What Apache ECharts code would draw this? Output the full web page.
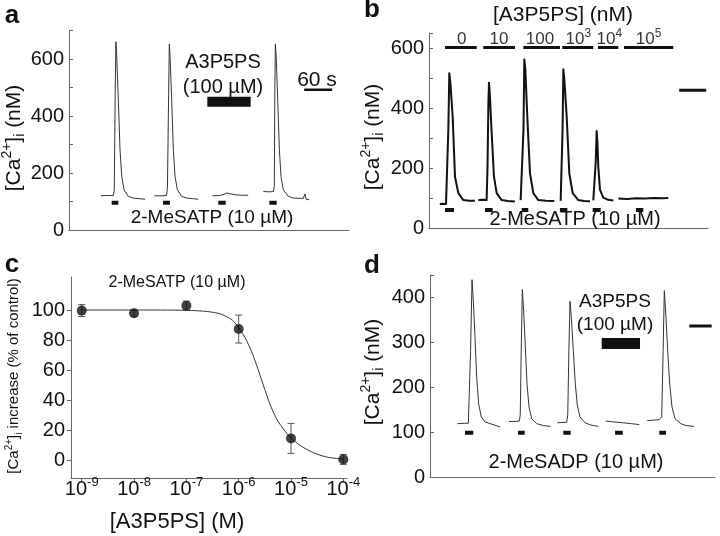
<!DOCTYPE html>
<html><head><meta charset="utf-8">
<script src="https://cdn.jsdelivr.net/npm/echarts@6/dist/echarts.min.js"></script>
<style>html,body{margin:0;padding:0;background:#fff}#c{width:720px;height:536px}</style>
</head><body><div id="c"></div>
<script>
// ---------- Panel a : [Ca2+]i traces (time s, nM) ----------
const aTrace1 = [[68,120],[80,121],[95,121],[97,140],[99,480],[100.5,661],[102,620],[105.7,459],[109.3,282],[113,188],[118,141],[127,118],[138,112],[150,110],[163,108]];
const aTrace2 = [[183,120],[200,120],[209,121],[211,150],[213.5,480],[215,653],[216.5,610],[220,459],[223.6,282],[227.2,188],[232.2,141],[241.5,118],[252.2,112],[265,110],[277,108]];
const aTrace3 = [[307,120],[323,121],[332,125],[338,130],[345,127],[359,123],[372,122],[384,122]];
const aTrace4 = [[416.5,135],[430,134],[438,135],[440,155],[441,480],[442.2,653],[444,610],[447.2,459],[450.8,282],[454.3,188],[459.3,141],[470,118],[480.7,112],[502,111],[505.7,127],[507.9,108],[515,106]];
const aDrug = [[91.4,105.7],[201.4,216.4],[320,335.8],[429.3,445]];
const aDrugLevel = 96;
const aBlock = [296.4,389.3]; const aBlockLevel = 450;
const aScale = [504,564]; const aScaleLevel = 492;

// ---------- Panel b ----------
const bTrace1 = [[24,80],[30,81],[37.8,80],[40.7,85],[43,330],[45.1,516],[47.5,485],[52.6,371],[57.8,171],[65.2,116],[76.3,93],[90,91],[102,91]];
const bTrace2 = [[109.6,93],[120,94],[128,93],[130,200],[132,420],[133.3,484],[135,450],[139.3,316],[144.4,171],[150.4,116],[161.5,93],[175,90],[191,88]];
const bTrace3 = [[203.7,93],[208,94],[210,330],[211.8,562],[214,530],[218.5,371],[224.4,182],[231.8,116],[242.9,93],[260,91],[278.5,90]];
const bTrace4 = [[292.6,91],[295.5,95],[297,340],[298.5,529],[300.5,500],[306,371],[311.8,182],[319.3,116],[331.8,93],[345,90],[357.7,89]];
const bTrace5 = [[365.1,92],[368.2,95],[370.5,220],[372.6,323],[374.5,280],[376.2,204],[380,127],[387.3,101],[398,94],[409.5,92]];
const bTrace6 = [[420.7,98],[440,97],[460,99],[480,98],[500,100],[520,99],[531.8,100]];
const bDrug = [[35.6,55.5],[124.4,141.5],[206,220.7],[291,307.4],[363.7,381.5],[460,476.2]];
const bDrugLevel = 60;
const bConc = [[35.6,106],[120.7,191.1],[209.6,291.1],[296.2,365.1],[375.5,420.7],[433.3,542.8]];
const bConcLevel = 602;
const bConcLabels = ['0','10','100','10{s|3}','10{s|4}','10{s|5}'];
const bConcLabelX = [72.6,155.5,246.6,331.8,400.7,488.1];
const bConcLabelLevel = 630;
const bScale = [556,616]; const bScaleLevel = 459;

// ---------- Panel c : concentration-response ----------
const cLogConc = [-9,-8,-7,-6,-5,-4];
const cMean = [99.6,97.8,102.9,87.3,14.4,0.4];
const cErr = [4,2,3,9.3,10,3.3];
const cFitX = [-9,-8,-7,-6.6,-6.36,-6.2,-6.1,-6.0,-5.91,-5.78,-5.66,-5.53,-5.40,-5.27,-5.11,-5.0,-4.83,-4.57,-4.32,-4.0];
const cFitY = [100,100,99.8,99,97.5,95,92.5,88,83.5,74.5,63.5,50,37,27,19,14.8,9.8,4.8,2,0.5];
const cYTicks = [0,20,40,60,80,100];

// ---------- Panel d ----------
const dTrace1 = [[74.9,120],[95,121],[104.9,121],[107.6,125],[111,280],[115,440],[118.6,393],[123.2,312],[127.8,223],[133.2,164],[140.5,135],[150.5,124],[168.8,119],[191.6,113]];
const dTrace2 = [[216.2,125],[235,125],[244.5,126],[247,140],[250,300],[252.7,418],[256.4,370],[261,289],[265.5,208],[271,157],[278.3,131],[292,120],[310,116],[330.3,114]];
const dTrace3 = [[348.4,122],[365,123],[374.1,123],[377,140],[380,280],[383.2,392],[386.8,356],[392.3,282],[397.7,208],[403.2,161],[410.6,135],[424.2,122],[440,117],[460.7,114]];
const dTrace4 = [[480.8,126],[501.8,124],[529.1,122],[552,120],[572.9,118]];
const dTrace5 = [[594.7,127],[615,128],[627.6,129],[634.2,135],[638,280],[641.3,416],[645.9,356],[650.5,282],[656,208],[662.4,157],[670.6,131],[686.2,120],[700,116],[722.6,114]];
const dDrug = [[95.8,118.6],[240.9,259.1],[364.9,385],[506.5,527.5],[627.6,645.9]];
const dDrugLevel = 100;
const dBlock = [469.9,574.8]; const dBlockLevel = 298;
const dScale = [709.8,770.9]; const dScaleLevel = 337;

// ---------------------------------------------------------
const FONT = 'Arial, "Liberation Sans", Helvetica, sans-serif';
const INK = '#111';
const AX = '#666';

function traceSeries(gi, data, width, color) {
  return { type:'line', xAxisIndex:gi, yAxisIndex:gi, data:data, showSymbol:false, symbol:'none',
    lineStyle:{width:width, color:color, join:'round'}, silent:true, animation:false, z:3 };
}
function barSeries(gi, range, level, width) {
  return { type:'line', xAxisIndex:gi, yAxisIndex:gi, data:[[range[0],level],[range[1],level]], showSymbol:false, symbol:'none',
    lineStyle:{width:width, color:INK, cap:'butt'}, silent:true, animation:false, z:4 };
}

const series = [];
[aTrace1,aTrace2,aTrace3,aTrace4].forEach(t => series.push(traceSeries(0,t,1,'#333')));
aDrug.forEach(r => series.push(barSeries(0,r,aDrugLevel,4)));
series.push(barSeries(0,aBlock,aBlockLevel,10));
series.push(barSeries(0,aScale,aScaleLevel,2.5));

[bTrace1,bTrace2,bTrace3,bTrace4,bTrace5,bTrace6].forEach(t => series.push(traceSeries(1,t,2,'#111')));
bDrug.forEach(r => series.push(barSeries(1,r,bDrugLevel,4)));
bConc.forEach(r => series.push(barSeries(1,r,bConcLevel,3)));
series.push(barSeries(1,bScale,bScaleLevel,3));
series.push({ type:'scatter', xAxisIndex:1, yAxisIndex:1, symbolSize:0, silent:true, animation:false,
  data: bConcLabelX.map((x,i)=>({value:[x,bConcLabelLevel], name:bConcLabels[i]})),
  label:{ show:true, position:'inside', formatter: p => p.name, color:'#000', fontFamily:FONT, fontSize:17, lineHeight:22,
    rich:{ s:{ fontSize:12, verticalAlign:'top', fontFamily:FONT, color:'#000' } } } });

// panel c
series.push({ type:'line', xAxisIndex:2, yAxisIndex:2, data:cFitX.map((x,i)=>[x,cFitY[i]]), showSymbol:false, symbol:'none',
  smooth:0.25, lineStyle:{width:1, color:'#333'}, silent:true, animation:false, z:2 });
series.push({ type:'custom', xAxisIndex:2, yAxisIndex:2, silent:true, animation:false, z:3,
  data: cLogConc.map((x,i)=>[x,cMean[i],cErr[i]]),
  renderItem:(params, api) => {
    const x = api.value(0), y = api.value(1), e = api.value(2);
    const t = api.coord([x, y+e]), b = api.coord([x, y-e]);
    const hw = 3.5, st = {stroke:'#555', lineWidth:1};
    return { type:'group', children:[
      {type:'line', shape:{x1:t[0],y1:t[1],x2:b[0],y2:b[1]}, style:st},
      {type:'line', shape:{x1:t[0]-hw,y1:t[1],x2:t[0]+hw,y2:t[1]}, style:st},
      {type:'line', shape:{x1:b[0]-hw,y1:b[1],x2:b[0]+hw,y2:b[1]}, style:st}
    ]};
  }});
series.push({ type:'scatter', xAxisIndex:2, yAxisIndex:2, data:cLogConc.map((x,i)=>[x,cMean[i]]),
  symbolSize:10, itemStyle:{color:INK}, silent:true, animation:false, z:4 });

[dTrace1,dTrace2,dTrace3,dTrace4,dTrace5].forEach(t => series.push(traceSeries(3,t,1,'#333')));
dDrug.forEach(r => series.push(barSeries(3,r,dDrugLevel,4)));
series.push(barSeries(3,dBlock,dBlockLevel,11));
series.push(barSeries(3,dScale,dScaleLevel,3));

function plainX(gi, max) {
  return { type:'value', gridIndex:gi, min:0, max:max, axisLine:{show:true, onZero:false, lineStyle:{color:AX, width:1}},
    axisTick:{show:false}, axisLabel:{show:false}, splitLine:{show:false} };
}
function traceY(gi, max, labelEvery) {
  return { type:'value', gridIndex:gi, min:0, max:max, interval:100,
    axisLine:{show:true, onZero:false, lineStyle:{color:AX, width:1}},
    axisTick:{show:true, inside:true, length:4, lineStyle:{color:AX}},
    axisLabel:{ margin:5, color:INK, fontFamily:FONT, fontSize:20, showMaxLabel:true,
      formatter: v => (v % labelEvery === 0 && v <= 600) ? String(v) : '' },
    splitLine:{show:false} };
}

const sup = (fs) => ({ fontSize:fs, verticalAlign:'top', fontFamily:FONT, fill:INK, color:INK });
const sub = (fs) => ({ fontSize:fs, verticalAlign:'bottom', fontFamily:FONT, fill:INK, color:INK });

function txt(x, y, s, fs, opts) {
  opts = opts || {};
  return { type:'text', x:x, y:y, rotation: opts.rot || 0, silent:true, z:10,
    style:{ text:s, fontSize:fs, fontFamily:FONT, fontWeight: opts.bold ? 'bold' : 'normal', fill:INK,
      align:'center', verticalAlign:'middle', lineHeight: opts.lh || Math.round(fs*1.3),
      rich: { s: sup(Math.round(fs*0.68)), i: sub(Math.round(fs*0.68)) } } };
}

const caLabel = '[Ca{s|2+}]{i|i} (nM)';

const option = {
  backgroundColor:'#fff',
  animation:false,
  grid:[
    {left:69, top:30.5, width:280, height:199.5},
    {left:429, top:33, width:279, height:195},
    {left:71, top:277, width:276, height:201},
    {left:430, top:275.2, width:285, height:202.5}
  ],
  xAxis:[
    plainX(0, 600),
    plainX(1, 620),
    { type:'value', gridIndex:2, min:-9.205, max:-3.93,
      axisLine:{show:true, onZero:false, lineStyle:{color:AX, width:1}},
      axisTick:{show:true, inside:false, length:4, customValues:cLogConc, lineStyle:{color:AX}},
      axisLabel:{ show:true, customValues:cLogConc, margin:-2, color:INK, fontFamily:FONT,
        formatter: v => '{b|10}{s|' + Math.round(v) + '}',
        rich:{ b:{fontSize:20, lineHeight:26, fontFamily:FONT, color:INK}, s:{fontSize:13, verticalAlign:'top', fontFamily:FONT, color:INK} } },
      splitLine:{show:false} },
    plainX(3, 780)
  ],
  yAxis:[
    traceY(0, 700, 200),
    traceY(1, 650, 200),
    { type:'value', gridIndex:2, min:-12, max:122,
      axisLine:{show:true, onZero:false, lineStyle:{color:AX, width:1}},
      axisTick:{show:true, inside:false, length:4, customValues:cYTicks, lineStyle:{color:AX}},
      axisLabel:{ customValues:cYTicks, margin:6, color:INK, fontFamily:FONT, fontSize:20 },
      splitLine:{show:false} },
    traceY(3, 450, 100)
  ],
  series: series,
  graphic: [
    txt(12, 16, 'a', 26, {bold:true}),
    txt(372, 10, 'b', 26, {bold:true}),
    txt(12, 265, 'c', 26, {bold:true}),
    txt(372, 266, 'd', 26, {bold:true}),
    // panel a
    txt(14, 138, caLabel, 21, {rot:Math.PI/2}),
    txt(223, 62, 'A3P5PS', 20),
    txt(223, 87, '(100 µM)', 20),
    txt(317, 80, '60 s', 21),
    txt(212, 218, '2-MeSATP (10 µM)', 19),
    // panel b
    txt(373, 137, caLabel, 21, {rot:Math.PI/2}),
    txt(563, 15, '[A3P5PS] (nM)', 21),
    txt(575, 219, '2-MeSATP (10 µM)', 20),
    // panel c
    txt(14, 376, '[Ca{s|2+}]{i|i} increase (% of control)', 15, {rot:Math.PI/2}),
    txt(177, 283, '2-MeSATP (10 µM)', 16),
    txt(177, 522, '[A3P5PS] (M)', 22),
    // panel d
    txt(373, 372, caLabel, 21, {rot:Math.PI/2}),
    txt(615, 302, 'A3P5PS', 19),
    txt(615, 325, '(100 µM)', 19),
    txt(576, 462, '2-MeSADP (10 µM)', 20)
  ]
};

const chart = echarts.init(document.getElementById('c'), null, {renderer:'canvas'});
chart.setOption(option);
</script>
</body></html>
